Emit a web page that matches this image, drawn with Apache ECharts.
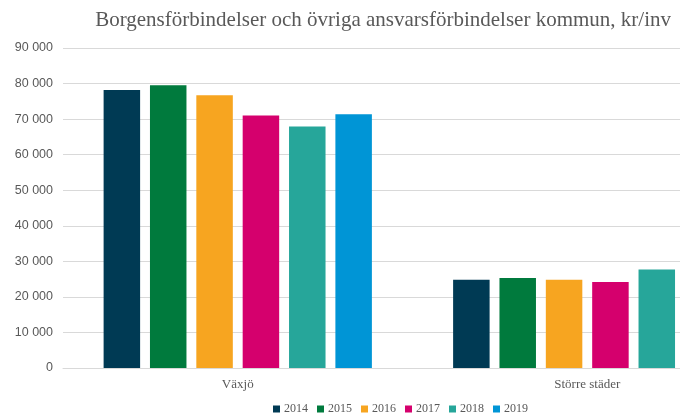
<!DOCTYPE html>
<html>
<head>
<meta charset="utf-8">
<script src="https://cdn.jsdelivr.net/npm/echarts@6/dist/echarts.min.js"></script>
<style>
  html, body { margin: 0; padding: 0; background: #fff; }
  #chart { width: 680px; height: 414px; }
</style>
</head>
<body>
<div id="chart"></div>
<script>
"use strict";

const categories = ['Växjö', 'Större städer'];
const years = ['2014', '2015', '2016', '2017', '2018', '2019'];
const colors = ['#003a54', '#007a3d', '#f7a520', '#d5006d', '#26a69a', '#0095d6'];

const v2014 = [78200, 24800];
const v2015 = [79500, 25300];
const v2016 = [76700, 24800];
const v2017 = [71000, 24200];
const v2018 = [67900, 27700];
const v2019 = [71400, null];

const values = [v2014, v2015, v2016, v2017, v2018, v2019];

const serif = '"Liberation Serif", "DejaVu Serif", serif';
const grey = '#595959';

const chart = echarts.init(document.getElementById('chart'));

const series = years.map((y, i) => ({
    name: y,
    type: 'bar',
    data: values[i],
    barWidth: 36.5,
    barGap: '27%',
    itemStyle: { color: colors[i] }
}));

const option = {
    animation: false,
    backgroundColor: '#fff',
    color: colors,
    title: {
        text: 'Borgensförbindelser och övriga ansvarsförbindelser kommun, kr/inv',
        right: 4,
        top: 5,
        textStyle: {
            fontFamily: serif,
            fontWeight: 'normal',
            fontSize: 21,
            color: grey
        }
    },
    legend: {
        left: 268,
        top: 398,
        itemWidth: 7,
        itemHeight: 7,
        itemGap: 9,
        icon: 'rect',
        textStyle: { fontFamily: serif, fontSize: 12, color: grey, padding: [0, 0, 0, -1] }
    },
    grid: {
        left: 63,
        top: 48,
        right: -82,
        bottom: 46,
        outerBoundsMode: 'none',
        containLabel: false
    },
    xAxis: {
        type: 'category',
        data: categories,
        axisLine: { lineStyle: { color: '#d9d9d9' } },
        axisTick: { show: false },
        axisLabel: { fontFamily: serif, fontSize: 13, color: grey, margin: 10 }
    },
    yAxis: {
        type: 'value',
        min: 0,
        max: 90000,
        interval: 10000,
        axisLine: { show: false },
        axisTick: { show: false },
        splitLine: { lineStyle: { color: '#d9d9d9' } },
        axisLabel: {
            fontFamily: '"Liberation Sans", sans-serif',
            fontSize: 12.5,
            color: grey,
            margin: 10,
            formatter: v => String(v).replace(/\B(?=(\d{3})+(?!\d))/g, ' ')
        }
    },
    series: series
};

chart.setOption(option);
</script>
</body>
</html>
